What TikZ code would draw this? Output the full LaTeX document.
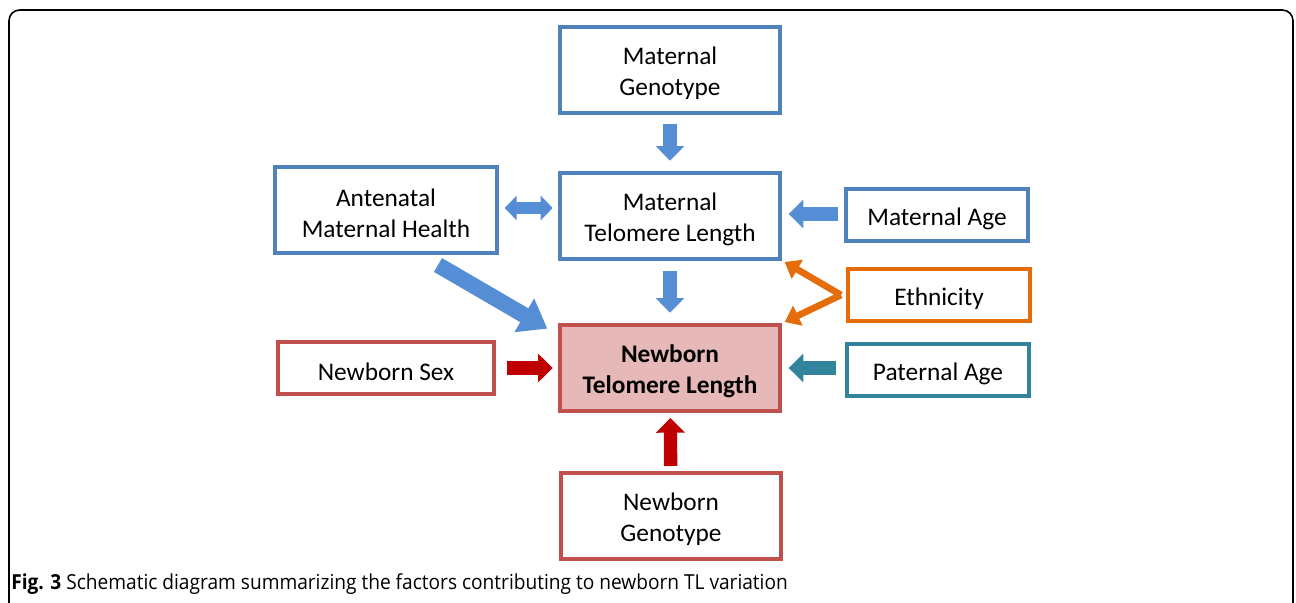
\documentclass[tikz,border=0pt]{standalone}
\usepackage{fontspec}
\setmainfont{Carlito}
\newfontfamily\capfont{Open Sans}
\usepackage{tikz}
\usetikzlibrary{arrows.meta,positioning}

\definecolor{mblue}{RGB}{79,129,189}
\definecolor{ablue}{RGB}{85,142,213}
\definecolor{mred}{RGB}{192,80,77}
\definecolor{pink}{RGB}{230,185,184}
\definecolor{dred}{RGB}{192,0,0}
\definecolor{orng}{RGB}{228,108,10}
\definecolor{teal2}{RGB}{49,132,155}

\begin{document}
\begin{tikzpicture}[
  x=0.75pt,y=-0.75pt,
  font=\fontsize{19}{23.5}\selectfont,
  base/.style={draw=mblue,line width=3pt,align=center,inner sep=0pt},
  fac/.style={base,minimum width=165pt,minimum height=64pt,
    execute at begin node={\rule{0pt}{42pt}}},
  small/.style={base,minimum width=136pt,minimum height=39pt,
    execute at begin node={\rule{0pt}{18.5pt}}},
  fat/.style={line width=10pt,-{Triangle[length=11pt,width=21pt]}},
  fatboth/.style={line width=9pt,{Triangle[length=9pt,width=18pt]}-{Triangle[length=9pt,width=18pt]}},
  thin/.style={line width=5pt,-{Triangle[length=11pt,width=16pt]}}]
  \useasboundingbox (0,0) rectangle (1296,603);
  \clip (0,0) rectangle (1296,603);
  % frame
  \draw[line width=1.2pt,rounded corners=8pt] (9,640) -- (9,10) -- (1293,10) -- (1293,640);

  % boxes
  \node[fac] (mg) at (670,70) {Maternal\\Genotype};
  \node[fac] (mtl) at (670,216) {Maternal\\Telomere Length};
  \node[fac,minimum width=167pt] (amh) at (386,210) {Antenatal\\Maternal Health};
  \node[small] (mage) at (937,215) {Maternal Age};
  \node[small,draw=orng] (eth) at (939,295) {Ethnicity};
  \node[fac,draw=mred,fill=pink,font=\fontsize{19}{23.5}\selectfont\bfseries] (ntl) at (670,368)
       {Newborn\\Telomere Length};
  \node[small,minimum width=162pt,draw=mred] (sex) at (386,368) {Newborn Sex};
  \node[small,draw=teal2] (page) at (938,370) {Paternal Age};
  \node[fac,draw=mred] (ng) at (671,516) {Newborn\\Genotype};
  \coordinate (ej) at (841,295);

  % arrows
  \draw[fat,ablue,shorten <=7pt,shorten >=8pt] (mg) -- (mtl);
  \draw[fat,ablue,shorten <=8pt,shorten >=8pt] (mtl) -- (ntl);
  \draw[fatboth,ablue,shorten <=4pt,shorten >=4pt] (amh.east |- 0,208) -- (mtl.west |- 0,208);
  \draw[fat,ablue,shorten <=5pt,shorten >=5pt] (mage.west |- 0,214) -- (mtl.east |- 0,214);
  \draw[ablue,line width=12pt,-{Triangle[length=20pt,width=28pt]}]
       (438,265) -- ([shift={(-8pt,-4pt)}]ntl.north west);
  \draw[thin,orng] (ej) -- ([shift={(2pt,-1pt)}]mtl.south east);
  \draw[thin,orng] (ej) -- ([shift={(2pt,1pt)}]ntl.north east);
  \draw[fat,dred,shorten <=8pt,shorten >=4pt] (sex) -- (ntl);
  \draw[fat,teal2,shorten <=7pt,shorten >=5pt] (page.west |- 0,368) -- (ntl.east |- 0,368);
  \draw[fat,dred,shorten <=4pt,shorten >=4pt] (ng) -- (ntl);

  % caption
  \node[anchor=west,inner sep=0pt,font=\capfont\fontsize{15.5}{17}\selectfont] (cap) at (11,584)
    {\scalebox{0.925}[1]{\textbf{Fig. 3} Schematic diagram summarizing the factors contributing to newborn TL variation}};
\end{tikzpicture}
\end{document}
